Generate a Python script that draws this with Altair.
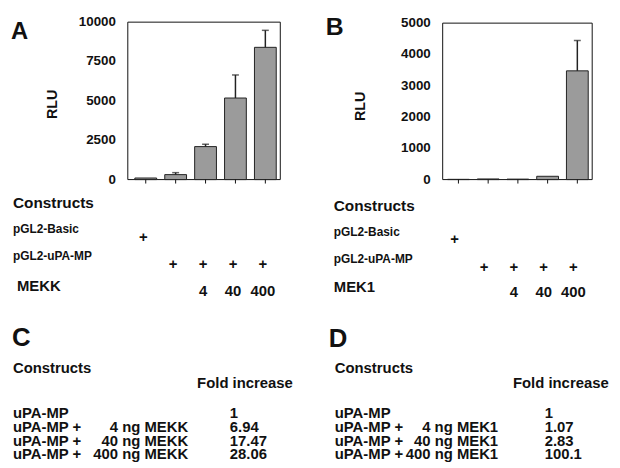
import altair as alt
import pandas as pd

FONT = "Liberation Sans"
W, H = 610, 460

# ---- data ----
positions = [1, 2, 3, 4, 5]
rlu_a = [100, 315, 2095, 5180, 8400]
err_top_a = [100, 440, 2245, 6645, 9480]
rlu_b = [8, 20, 15, 105, 3475]
err_top_b = [8, 20, 15, 105, 4445]
yticks_a = [0, 2500, 5000, 7500, 10000]
yticks_b = [0, 1000, 2000, 3000, 4000, 5000]
basic_marks = ["+", "", "", "", ""]
upa_marks = ["", "+", "+", "+", "+"]
doses = ["", "", "4", "40", "400"]

table_base = ["uPA-MP", "uPA-MP +", "uPA-MP +", "uPA-MP +"]
table_dose_mekk = ["", "4 ng MEKK", "40 ng MEKK", "400 ng MEKK"]
table_dose_mek1 = ["", "4 ng MEK1", "40 ng MEK1", "400 ng MEK1"]
fold_mekk = ["1", "6.94", "17.47", "28.06"]
fold_mek1 = ["1", "1.07", "2.83", "100.1"]


def label(text, x, y, size=15, align="left", angle=None, baseline="alphabetic"):
    kw = dict(font=FONT, fontWeight="bold", fontSize=size, align=align,
              baseline=baseline, color="#111")
    if angle is not None:
        kw["angle"] = angle
    return alt.Chart(pd.DataFrame({"t": [text]})).mark_text(**kw).encode(
        text="t:N", x=alt.value(x), y=alt.value(y))


def panel(values, tops, yticks, xdomain, xrange, yrange, plus_dx, row_y):
    df = pd.DataFrame({"pos": positions, "rlu": values, "top": tops,
                       "basic": basic_marks, "upa": upa_marks, "dose": doses})
    ydomain = [yticks[0], yticks[-1]]
    xs = alt.Scale(domain=xdomain, range=xrange, nice=False, zero=False)
    ys = alt.Scale(domain=ydomain, range=yrange, nice=False)
    base = alt.Chart(df)

    frame_df = pd.DataFrame({"x0": [xdomain[0]], "x1": [xdomain[1]],
                             "y0": [ydomain[0]], "y1": [ydomain[1]]})
    frame = alt.Chart(frame_df).mark_rect(fillOpacity=0, stroke="#111", strokeWidth=1).encode(
        x=alt.X("x0:Q", scale=xs), x2="x1:Q",
        y=alt.Y("y0:Q", scale=ys), y2="y1:Q")

    bars = base.mark_bar(size=22, color="#9b9b9b", stroke="#222", strokeWidth=1,
                         orient="vertical").encode(
        x=alt.X("pos:Q"), y=alt.Y("rlu:Q"))

    err = base.mark_rule(color="#222", strokeWidth=1.5).encode(
        x="pos:Q", y="rlu:Q", y2="top:Q")
    caps = base.transform_filter("datum.top > datum.rlu").mark_tick(
        orient="horizontal", size=7, thickness=1.5, color="#222").encode(
        x="pos:Q", y="top:Q")

    xticks = base.mark_rule(color="#111", strokeWidth=1, y2Offset=4).encode(
        x="pos:Q", y=alt.datum(0), y2=alt.datum(0))

    tick_df = pd.DataFrame({"v": yticks, "lab": [str(v) for v in yticks]})
    ylabels = alt.Chart(tick_df).mark_text(
        font=FONT, fontWeight="bold", fontSize=13.5, align="right",
        baseline="middle", color="#111").encode(
        y="v:Q", x=alt.value(xrange[0] - 7), text="lab:N")

    rows = []
    for field, y in [("basic", row_y[0]), ("upa", row_y[1]), ("dose", row_y[2])]:
        rows.append(base.transform_filter(f"datum.{field} != ''").mark_text(
            font=FONT, fontWeight="bold", fontSize=15, align="center",
            dx=plus_dx, color="#111").encode(
            x="pos:Q", y=alt.value(y), text=f"{field}:N"))

    return alt.layer(frame, bars, err, caps, xticks, ylabels, *rows)


panel_a = panel(rlu_a, err_top_a, yticks_a, [0.4, 5.5], [116, 280], [171, 12], -2.5,
                [229.5, 256, 283.5])
panel_b = panel(rlu_b, err_top_b, yticks_b, [0.47, 5.5], [434, 595], [171, 13], -4,
                [231.5, 259, 285])

labels = [
    label("A", 3, 29, size=24),
    label("RLU", 45.5, 95, size=14.5, align="center", angle=270, baseline="middle"),
    label("Constructs", 5, 199.5, size=15.5),
    label("pGL2-Basic", 5, 225, size=12),
    label("pGL2-uPA-MP", 5, 252, size=12),
    label("MEKK", 9, 283.5, size=15),
    label("B", 321, 25, size=25),
    label("RLU", 357, 97, size=14.5, align="center", angle=270, baseline="middle"),
    label("Constructs", 329, 203, size=15.5),
    label("pGL2-Basic", 329, 228, size=12),
    label("pGL2-uPA-MP", 329, 255, size=12),
    label("MEK1", 329, 285, size=15),
    label("C", 4, 339, size=26),
    label("Constructs", 5, 366),
    label("Fold increase", 191, 381),
    label("D", 324, 340, size=26),
    label("Constructs", 330, 366),
    label("Fold increase", 510, 381),
]

row_ys = [412, 426, 440, 453.7]
for i, y in enumerate(row_ys):
    labels.append(label(table_base[i], 5, y))
    labels.append(label(table_dose_mekk[i], 182, y, align="right"))
    labels.append(label(fold_mekk[i], 224, y))
    labels.append(label(table_base[i], 330, y))
    labels.append(label(table_dose_mek1[i], 495, y, align="right"))
    labels.append(label(fold_mek1[i], 542, y))

chart = alt.layer(panel_a, panel_b, *labels).resolve_scale(
    x="independent", y="independent"
).properties(
    width=W, height=H, padding=0, autosize=alt.AutoSizeParams(type="none")
).configure_view(stroke=None).configure_axis(disable=True)

chart.save("out.html", embed_options={"renderer": "svg", "actions": False})
